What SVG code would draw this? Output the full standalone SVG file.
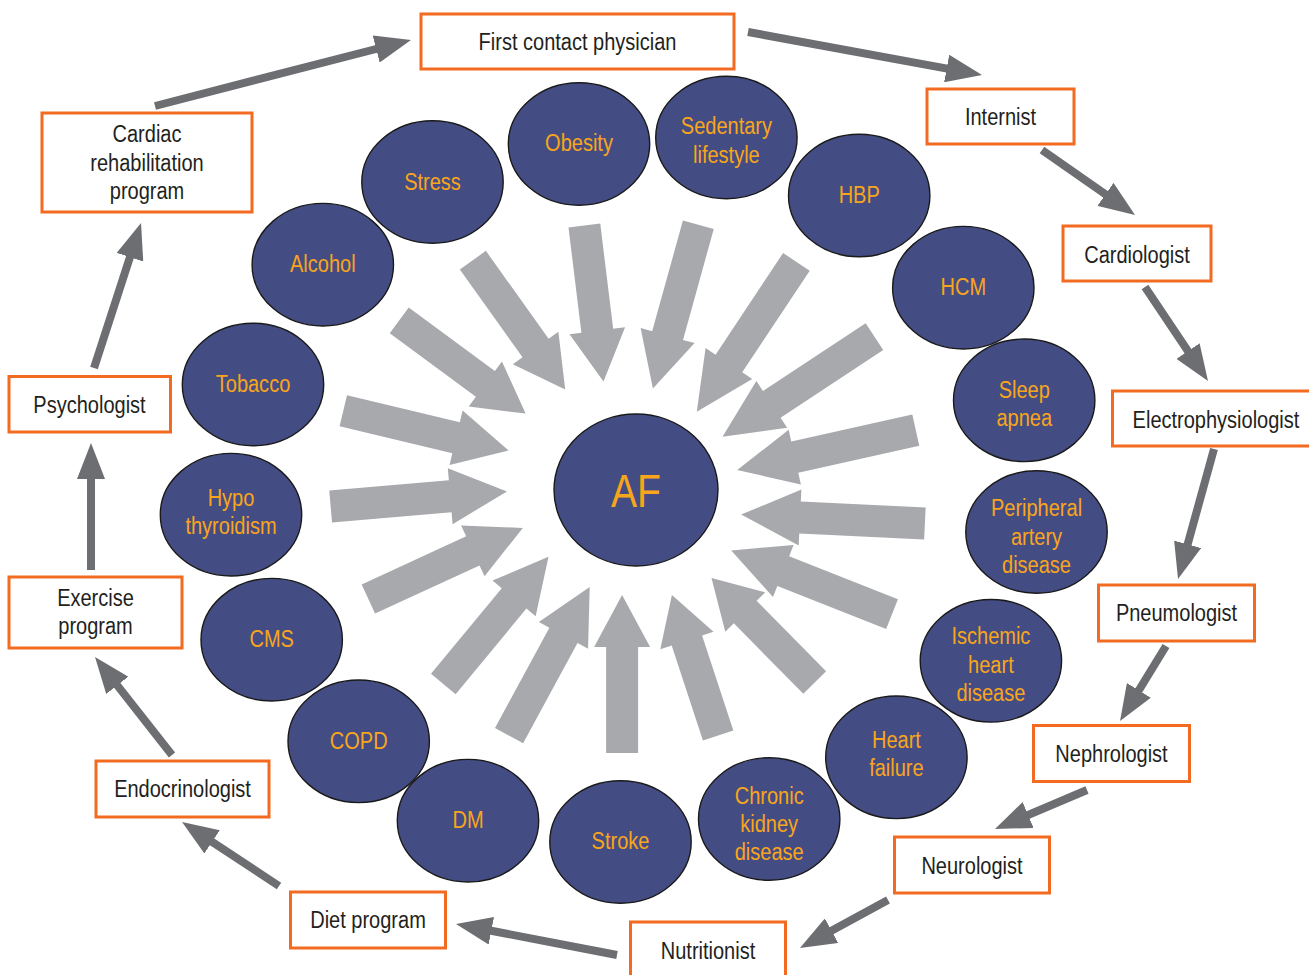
<svg xmlns="http://www.w3.org/2000/svg" width="1309" height="975" viewBox="0 0 1309 975">
<defs>
<style>
.bg{fill:#ffffff}
.risk ellipse{fill:#444D83;stroke:#1a1a1a;stroke-width:1.4}
.risk text{fill:#F9A51B;font-family:"Liberation Sans",Arial,sans-serif;font-size:23px;text-anchor:middle}
.af text{font-size:46px}
.box rect{fill:#ffffff;stroke:#F26B21;stroke-width:3}
.box text{fill:#231F20;font-family:"Liberation Sans",Arial,sans-serif;font-size:23px;text-anchor:middle}
.block{fill:#A7A9AC}
.flow{stroke:#6D6E71;stroke-width:8;fill:none;marker-end:url(#head)}
</style>
<marker id="head" markerUnits="userSpaceOnUse" markerWidth="36" markerHeight="28" viewBox="0 0 36 28" refX="20" refY="14" orient="auto">
<path d="M0,0 L36,14 L0,28 Z" fill="#6D6E71"/>
</marker>
</defs>
<rect class="bg" x="0" y="0" width="1309" height="975"/>

<g id="connectors">
<g id="risk-arrows" class="block">
<polygon transform="translate(565.2,389.6) rotate(54.5)" points="0,0 -51,-28 -51,-16 -159,-16 -159,16 -51,16 -51,28"/>
<polygon transform="translate(603.5,381.4) rotate(83)" points="0,0 -51,-28 -51,-16 -157,-16 -157,16 -51,16 -51,28"/>
<polygon transform="translate(652.9,388.6) rotate(105.5)" points="0,0 -55,-28 -55,-16 -170,-16 -170,16 -55,16 -55,28"/>
<polygon transform="translate(696.8,411.8) rotate(123.6)" points="0,0 -58,-28 -58,-16 -180,-16 -180,16 -58,16 -58,28"/>
<polygon transform="translate(722.5,436.8) rotate(146.6)" points="0,0 -59,-28 -59,-16 -182,-16 -182,16 -59,16 -59,28"/>
<polygon transform="translate(737.2,470) rotate(167.4)" points="0,0 -59,-28 -59,-16 -183,-16 -183,16 -59,16 -59,28"/>
<polygon transform="translate(741.1,514.6) rotate(182.8)" points="0,0 -59,-28 -59,-16 -184,-16 -184,16 -59,16 -59,28"/>
<polygon transform="translate(731.2,550.4) rotate(-158.4)" points="0,0 -56,-28 -56,-16 -173,-16 -173,16 -56,16 -56,28"/>
<polygon transform="translate(711.5,577.9) rotate(-134.6)" points="0,0 -48,-28 -48,-16 -147,-16 -147,16 -48,16 -48,28"/>
<polygon transform="translate(671.9,595) rotate(-108.2)" points="0,0 -48,-28 -48,-16 -148,-16 -148,16 -48,16 -48,28"/>
<polygon transform="translate(622.1,595) rotate(-90)" points="0,0 -52,-28 -52,-16 -158,-16 -158,16 -52,16 -52,28"/>
<polygon transform="translate(589.7,587.1) rotate(-61.5)" points="0,0 -55,-28 -55,-16 -169,-16 -169,16 -55,16 -55,28"/>
<polygon transform="translate(548.5,556.8) rotate(-50.4)" points="0,0 -54,-28 -54,-16 -165,-16 -165,16 -54,16 -54,28"/>
<polygon transform="translate(522.8,527.9) rotate(-24.7)" points="0,0 -55,-28 -55,-16 -170,-16 -170,16 -55,16 -55,28"/>
<polygon transform="translate(507,491.4) rotate(-4.9)" points="0,0 -57,-28 -57,-16 -177,-16 -177,16 -57,16 -57,28"/>
<polygon transform="translate(508.6,450.4) rotate(13.5)" points="0,0 -54,-28 -54,-16 -170,-16 -170,16 -54,16 -54,28"/>
<polygon transform="translate(525.6,413.6) rotate(36.4)" points="0,0 -50,-28 -50,-16 -157,-16 -157,16 -50,16 -50,28"/>
</g>
<g id="care-path">
<line class="flow" x1="155" y1="106" x2="395.5" y2="44"/>
<line class="flow" x1="748" y1="32" x2="966.3" y2="72.1"/>
<line class="flow" x1="1042" y1="150" x2="1121.9" y2="205.8"/>
<line class="flow" x1="1145" y1="287" x2="1199.1" y2="367.7"/>
<line class="flow" x1="1214" y1="449" x2="1182.3" y2="563.6"/>
<line class="flow" x1="1166" y1="646" x2="1128.4" y2="707.4"/>
<line class="flow" x1="1087" y1="790" x2="1009.7" y2="822.8"/>
<line class="flow" x1="888" y1="900" x2="814" y2="940.3"/>
<line class="flow" x1="617" y1="955" x2="471.7" y2="927"/>
<line class="flow" x1="279" y1="886" x2="195.4" y2="830.8"/>
<line class="flow" x1="172" y1="755" x2="104.9" y2="669.6"/>
<line class="flow" x1="91" y1="570" x2="91" y2="459"/>
<line class="flow" x1="94" y1="368" x2="136.1" y2="238.2"/>
</g>
</g>

<g id="af" class="risk af">
<ellipse cx="636" cy="490" rx="82" ry="76"/>
<text transform="translate(636,0) scale(0.85,1)" y="507">AF</text>
</g>

<g id="stress" class="risk"><ellipse cx="432.5" cy="182" rx="70.7" ry="61.3"/><text transform="translate(432.5,0) scale(0.87,1)" y="190">Stress</text></g>
<g id="obesity" class="risk"><ellipse cx="579" cy="144" rx="70.7" ry="61.3"/><text transform="translate(579,0) scale(0.87,1)" y="151">Obesity</text></g>
<g id="sedentary" class="risk"><ellipse cx="726.4" cy="137.5" rx="70.7" ry="61.3"/><text transform="translate(726.4,0) scale(0.87,1)"><tspan x="0" y="134">Sedentary</tspan><tspan x="0" y="163">lifestyle</tspan></text></g>
<g id="hbp" class="risk"><ellipse cx="859.2" cy="195.5" rx="70.7" ry="61.3"/><text transform="translate(859.2,0) scale(0.87,1)" y="203">HBP</text></g>
<g id="hcm" class="risk"><ellipse cx="963.3" cy="287.7" rx="70.7" ry="61.3"/><text transform="translate(963.3,0) scale(0.87,1)" y="295">HCM</text></g>
<g id="sleep-apnea" class="risk"><ellipse cx="1024.2" cy="400.3" rx="70.7" ry="61.3"/><text transform="translate(1024.2,0) scale(0.87,1)"><tspan x="0" y="398">Sleep</tspan><tspan x="0" y="426">apnea</tspan></text></g>
<g id="peripheral" class="risk"><ellipse cx="1036.5" cy="532" rx="70.7" ry="61.3"/><text transform="translate(1036.5,0) scale(0.87,1)"><tspan x="0" y="516">Peripheral</tspan><tspan x="0" y="545">artery</tspan><tspan x="0" y="573">disease</tspan></text></g>
<g id="ischemic" class="risk"><ellipse cx="990.9" cy="660.8" rx="70.7" ry="61.3"/><text transform="translate(990.9,0) scale(0.87,1)"><tspan x="0" y="644">Ischemic</tspan><tspan x="0" y="673">heart</tspan><tspan x="0" y="701">disease</tspan></text></g>
<g id="heart-failure" class="risk"><ellipse cx="896.4" cy="757.3" rx="70.7" ry="61.3"/><text transform="translate(896.4,0) scale(0.87,1)"><tspan x="0" y="748">Heart</tspan><tspan x="0" y="776">failure</tspan></text></g>
<g id="ckd" class="risk"><ellipse cx="769.2" cy="819" rx="70.7" ry="61.3"/><text transform="translate(769.2,0) scale(0.87,1)"><tspan x="0" y="804">Chronic</tspan><tspan x="0" y="832">kidney</tspan><tspan x="0" y="860">disease</tspan></text></g>
<g id="stroke" class="risk"><ellipse cx="620.5" cy="842" rx="70.7" ry="61.3"/><text transform="translate(620.5,0) scale(0.87,1)" y="849">Stroke</text></g>
<g id="dm" class="risk"><ellipse cx="468" cy="820.7" rx="70.7" ry="61.3"/><text transform="translate(468,0) scale(0.87,1)" y="828">DM</text></g>
<g id="copd" class="risk"><ellipse cx="358.7" cy="741.3" rx="70.7" ry="61.3"/><text transform="translate(358.7,0) scale(0.87,1)" y="749">COPD</text></g>
<g id="cms" class="risk"><ellipse cx="271.7" cy="639.7" rx="70.7" ry="61.3"/><text transform="translate(271.7,0) scale(0.87,1)" y="647">CMS</text></g>
<g id="hypothyroidism" class="risk"><ellipse cx="231" cy="514.7" rx="70.7" ry="61.3"/><text transform="translate(231,0) scale(0.87,1)"><tspan x="0" y="506">Hypo</tspan><tspan x="0" y="534">thyroidism</tspan></text></g>
<g id="tobacco" class="risk"><ellipse cx="253" cy="384.5" rx="70.7" ry="61.3"/><text transform="translate(253,0) scale(0.87,1)" y="392">Tobacco</text></g>
<g id="alcohol" class="risk"><ellipse cx="322.8" cy="264.7" rx="70.7" ry="61.3"/><text transform="translate(322.8,0) scale(0.87,1)" y="272">Alcohol</text></g>

<g id="first-contact" class="box"><rect x="421" y="14" width="313" height="55"/><text transform="translate(577.5,0) scale(0.87,1)" y="50">First contact physician</text></g>
<g id="internist" class="box"><rect x="927" y="89" width="147" height="55"/><text transform="translate(1000.5,0) scale(0.87,1)" y="125">Internist</text></g>
<g id="cardiologist" class="box"><rect x="1063" y="226" width="148" height="55"/><text transform="translate(1137,0) scale(0.87,1)" y="263">Cardiologist</text></g>
<g id="electrophysiologist" class="box"><rect x="1112.5" y="391" width="200" height="55"/><text transform="translate(1216,0) scale(0.87,1)" y="428">Electrophysiologist</text></g>
<g id="pneumologist" class="box"><rect x="1098.5" y="585" width="156" height="56"/><text transform="translate(1176.5,0) scale(0.87,1)" y="621">Pneumologist</text></g>
<g id="nephrologist" class="box"><rect x="1033.5" y="725.5" width="156" height="56"/><text transform="translate(1111.5,0) scale(0.87,1)" y="762">Nephrologist</text></g>
<g id="neurologist" class="box"><rect x="894.5" y="837" width="155" height="56"/><text transform="translate(972,0) scale(0.87,1)" y="874">Neurologist</text></g>
<g id="nutritionist" class="box"><rect x="630.5" y="922" width="155" height="60"/><text transform="translate(708,0) scale(0.87,1)" y="959">Nutritionist</text></g>
<g id="diet-program" class="box"><rect x="290.5" y="892" width="155" height="56"/><text transform="translate(368,0) scale(0.87,1)" y="928">Diet program</text></g>
<g id="endocrinologist" class="box"><rect x="96" y="761" width="173" height="56"/><text transform="translate(182.5,0) scale(0.87,1)" y="797">Endocrinologist</text></g>
<g id="exercise-program" class="box"><rect x="9" y="577" width="173" height="71"/><text transform="translate(95.5,0) scale(0.87,1)"><tspan x="0" y="606">Exercise</tspan><tspan x="0" y="634">program</tspan></text></g>
<g id="psychologist" class="box"><rect x="9" y="376.5" width="161.5" height="55.5"/><text transform="translate(89.5,0) scale(0.87,1)" y="413">Psychologist</text></g>
<g id="cardiac-rehab" class="box"><rect x="42" y="113" width="210" height="99"/><text transform="translate(147,0) scale(0.87,1)"><tspan x="0" y="142">Cardiac</tspan><tspan x="0" y="171">rehabilitation</tspan><tspan x="0" y="199.5">program</tspan></text></g>
</svg>
